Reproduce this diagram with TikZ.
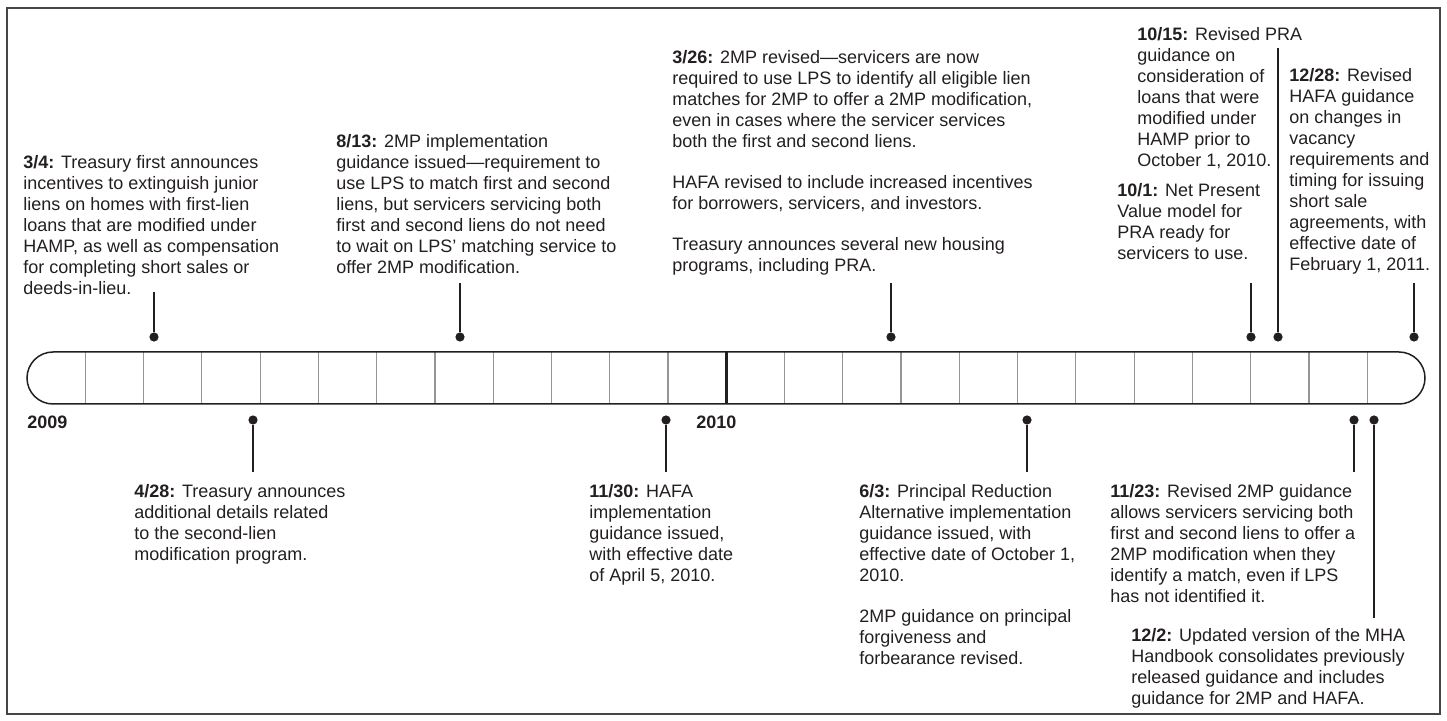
\documentclass[tikz,border=0pt]{standalone}
\usepackage{fontspec}
\setmainfont{Liberation Sans}
\usetikzlibrary{positioning}
\definecolor{tl_ink}{RGB}{35, 31, 32}
\definecolor{tl_rule}{RGB}{70, 70, 70}
\definecolor{tl_grid}{RGB}{150, 150, 150}

\begin{document}
\begin{tikzpicture}[
        x=0.5pt, y=-0.5pt,
        note/.style={anchor=north west, inner sep=0pt, align=left,
                     text=tl_ink, font=\fontsize{9}{10.5}\selectfont},
        yearlbl/.style={anchor=north west, inner sep=0pt, text=tl_ink,
                     font=\fontsize{9}{10.5}\selectfont\bfseries},
        dot/.style={circle, fill=tl_ink, inner sep=0pt, minimum size=4.6pt},
        stem/.style={tl_ink, line width=0.7pt},
        cell/.style={tl_grid, line width=0.6pt},
      ]
        \useasboundingbox (0,0) rectangle (1447,721);
        \draw[tl_rule, line width=0.8pt] (7,8) rectangle (1440,714);
        % timeline bar, one cell per month
        \foreach \i in {0,...,22}
          \draw[cell] ({85.3+58.27*\i},352) -- ++(0,52);
        \draw[tl_ink, line width=1.3pt] (726.6,352) -- (726.6,404);
        \draw[tl_ink, line width=0.75pt, rounded corners=13pt]
          (27,352) rectangle (1425,404);
        \node[yearlbl] (y2009) at (27,416) {2009};
        \node[yearlbl] (y2010) at (696,416) {2010};
        % events above the bar
        \node[note] (n34) at (23,155)
          {\textbf{3/4:} Treasury first announces\\
           incentives to extinguish junior\\
           liens on homes with first-lien\\
           loans that are modified under\\
           HAMP, as well as compensation\\
           for completing short sales or\\
           deeds-in-lieu.};
        \node[note] (n813) at (336,134)
          {\textbf{8/13:} 2MP implementation\\
           guidance issued---requirement to\\
           use LPS to match first and second\\
           liens, but servicers servicing both\\
           first and second liens do not need\\
           to wait on LPS' matching service to\\
           offer 2MP modification.};
        \node[note] (n326) at (672,50)
          {\textbf{3/26:} 2MP revised---servicers are now\\
           required to use LPS to identify all eligible lien\\
           matches for 2MP to offer a 2MP modification,\\
           even in cases where the servicer services\\
           both the first and second liens.\\[10pt]
           HAFA revised to include increased incentives\\
           for borrowers, servicers, and investors.\\[10pt]
           Treasury announces several new housing\\
           programs, including PRA.};
        \node[note] (n1015) at (1137,27)
          {\textbf{10/15:} Revised PRA\\
           guidance on\\
           consideration of\\
           loans that were\\
           modified under\\
           HAMP prior to\\
           October 1, 2010.};
        \node[note] (n101) at (1117,183)
          {\textbf{10/1:} Net Present\\
           Value model for\\
           PRA ready for\\
           servicers to use.};
        \node[note] (n1228) at (1289,68)
          {\textbf{12/28:} Revised\\
           HAFA guidance\\
           on changes in\\
           vacancy\\
           requirements and\\
           timing for issuing\\
           short sale\\
           agreements, with\\
           effective date of\\
           February 1, 2011.};
        % events below the bar
        \node[note] (n428) at (134,484)
          {\textbf{4/28:} Treasury announces\\
           additional details related\\
           to the second-lien\\
           modification program.};
        \node[note] (n1130) at (589,484)
          {\textbf{11/30:} HAFA\\
           implementation\\
           guidance issued,\\
           with effective date\\
           of April 5, 2010.};
        \node[note] (n63) at (859,484)
          {\textbf{6/3:} Principal Reduction\\
           Alternative implementation\\
           guidance issued, with\\
           effective date of October 1,\\
           2010.\\[10pt]
           2MP guidance on principal\\
           forgiveness and\\
           forbearance revised.};
        \node[note] (n1123) at (1110,484)
          {\textbf{11/23:} Revised 2MP guidance\\
           allows servicers servicing both\\
           first and second liens to offer a\\
           2MP modification when they\\
           identify a match, even if LPS\\
           has not identified it.};
        \node[note] (n122) at (1131,628)
          {\textbf{12/2:} Updated version of the MHA\\
           Handbook consolidates previously\\
           released guidance and includes\\
           guidance for 2MP and HAFA.};
        % dots and stems
        \node[dot] (d34)   at (154,337) {};
        \node[dot] (d813)  at (460,337) {};
        \node[dot] (d326)  at (891,337) {};
        \node[dot] (d101)  at (1251,337) {};
        \node[dot] (d1015) at (1278,337) {};
        \node[dot] (d1228) at (1414,337) {};
        \node[dot] (d428)  at (253,420) {};
        \node[dot] (d1130) at (666,420) {};
        \node[dot] (d63)   at (1027,420) {};
        \node[dot] (d1123) at (1354,420) {};
        \node[dot] (d122)  at (1374,420) {};
        \coordinate (e34)   at (154,292);
        \coordinate (e813)  at (460,283);
        \coordinate (e326)  at (891,283);
        \coordinate (e101)  at (1251,283);
        \coordinate (e1015) at (1278,48);
        \coordinate (e1228) at (1414,283);
        \coordinate (e428)  at (253,472);
        \coordinate (e1130) at (666,472);
        \coordinate (e63)   at (1027,472);
        \coordinate (e1123) at (1354,472);
        \coordinate (e122)  at (1374,618);
        \draw[stem] (d34)   -- (e34);
        \draw[stem] (d813)  -- (e813);
        \draw[stem] (d326)  -- (e326);
        \draw[stem] (d101)  -- (e101);
        \draw[stem] (d1015) -- (e1015);
        \draw[stem] (d1228) -- (e1228);
        \draw[stem] (d428)  -- (e428);
        \draw[stem] (d1130) -- (e1130);
        \draw[stem] (d63)   -- (e63);
        \draw[stem] (d1123) -- (e1123);
        \draw[stem] (d122)  -- (e122);
      \end{tikzpicture}
\end{document}
